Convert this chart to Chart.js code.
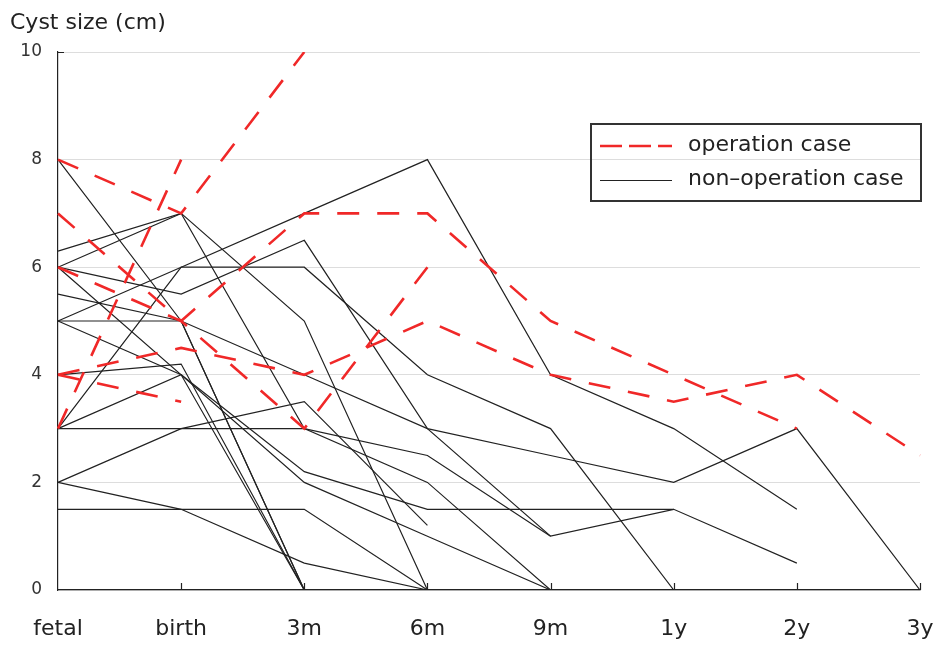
<!DOCTYPE html>
<html>
<head>
<meta charset="utf-8">
<script src="https://cdn.jsdelivr.net/npm/chart.js@4.4.0/dist/chart.umd.min.js"></script>
<style>
    html, body { margin: 0; padding: 0; background: #ffffff; }
    #wrap { width: 939px; height: 646px; position: relative; }
</style>
</head>
<body>
<div id="wrap"><canvas id="cystChart" width="939" height="646"></canvas></div>
<script>
// Cyst size follow-up, one line per patient
var categories = ['fetal', 'birth', '3m', '6m', '9m', '1y', '2y', '3y'];
var yTicks = [0, 2, 4, 6, 8, 10];

// operation cases (red dashed)
var operationCases = [
    [8, 7, 10],
    [7, 5, 7, 7, 5, 4, 3],
    [6, 5, 3, 6],
    [4, 3.5],
    [4, 4.5, 4, 5, 4, 3.5, 4, 2.5],
    [3, 8]
];

// non-operation cases (black solid)
var nonOperationCases = [
    [8, 5, 0],
    [6.3, 7, 5, 0],
    [6, 7, 3, 2, 0],
    [6, 5.5, 6.5, 3, 1, 1.5, 0.5],
    [6, 4, 0],
    [5.5, 5, 4, 3, 2.5, 2, 3, 0],
    [5, 5, 0],
    [5, 6, 7, 8, 4, 3, 1.5],
    [5, 4, 2, 1, 0],
    [4, 4.2, 0],
    [3, 3, 3, 2.5, 1],
    [3, 4, 2.2, 1.5, 1.5, 1.5],
    [3, 6, 6, 4, 3, 0],
    [2, 3, 3.5, 1.2],
    [2, 1.5, 0.5, 0],
    [1.5, 1.5, 1.5, 0]
];

var FONT = '"DejaVu Sans", "Liberation Sans", sans-serif';
var RED = '#f02828';
var INK = '#222222';

var datasets = [];
operationCases.forEach(function (vals, i) {
    datasets.push({
        label: 'operation case ' + (i + 1),
        data: vals,
        borderColor: RED,
        borderWidth: 2.6,
        borderDash: [22, 18],
        pointRadius: 0,
        tension: 0,
        fill: false
    });
});
nonOperationCases.forEach(function (vals, i) {
    datasets.push({
        label: 'non-operation case ' + (i + 1),
        data: vals,
        borderColor: INK,
        borderWidth: 1.2,
        pointRadius: 0,
        tension: 0,
        fill: false
    });
});

// title, small tick marks and the boxed legend
var extrasPlugin = {
    id: 'cystExtras',
    afterDraw: function (chart) {
        var ctx = chart.ctx;
        var a = chart.chartArea;
        var xs = chart.scales.x;
        var ys = chart.scales.y;
        ctx.save();

        ctx.fillStyle = INK;
        ctx.font = '22px ' + FONT;
        ctx.textAlign = 'left';
        ctx.textBaseline = 'alphabetic';
        ctx.fillText('Cyst size (cm)', 10, 29);

        ctx.strokeStyle = INK;
        ctx.lineWidth = 1.2;
        ctx.beginPath();
        for (var i = 1; i < categories.length; i++) {
            var x = Math.round(xs.getPixelForValue(i)) + 0.5;
            ctx.moveTo(x, a.bottom);
            ctx.lineTo(x, a.bottom - 7);
        }
        var yTop = Math.round(ys.getPixelForValue(yTicks[yTicks.length - 1])) + 0.5;
        ctx.moveTo(a.left, yTop);
        ctx.lineTo(a.left + 6, yTop);
        ctx.stroke();

        // legend box
        ctx.lineWidth = 2;
        ctx.strokeStyle = '#333333';
        ctx.strokeRect(591, 124, 330, 77);

        ctx.beginPath();
        ctx.strokeStyle = RED;
        ctx.lineWidth = 2.6;
        ctx.setLineDash([22, 7]);
        ctx.moveTo(600, 146);
        ctx.lineTo(672, 146);
        ctx.stroke();

        ctx.beginPath();
        ctx.setLineDash([]);
        ctx.strokeStyle = INK;
        ctx.lineWidth = 1.2;
        ctx.moveTo(600, 180.5);
        ctx.lineTo(672, 180.5);
        ctx.stroke();

        ctx.fillStyle = INK;
        ctx.font = '22px ' + FONT;
        ctx.textBaseline = 'middle';
        ctx.fillText('operation case', 688, 145);
        ctx.fillText('non\u2013operation case', 688, 179);
        ctx.restore();
    }
};

new Chart(document.getElementById('cystChart').getContext('2d'), {
    type: 'line',
    data: { labels: categories, datasets: datasets },
    plugins: [extrasPlugin],
    options: {
        responsive: false,
        animation: false,
        devicePixelRatio: 1,
        layout: { padding: { left: 0, right: 19, top: 52, bottom: 0 } },
        plugins: {
            legend: { display: false },
            tooltip: { enabled: false }
        },
        scales: {
            x: {
                type: 'category',
                offset: false,
                grid: { display: false, drawTicks: false },
                border: { display: true, color: INK, width: 1.2 },
                ticks: {
                    color: INK,
                    padding: 26,
                    maxRotation: 0,
                    autoSkip: false,
                    font: { size: 22, family: FONT }
                },
                afterFit: function (scale) {
                    scale.height = 56;
                    scale.paddingLeft = 0;
                    scale.paddingRight = 0;
                }
            },
            y: {
                min: 0,
                max: 10,
                grid: { color: '#dddddd', lineWidth: 1, drawTicks: false },
                border: { display: true, color: INK, width: 1.2 },
                ticks: {
                    stepSize: 2,
                    color: '#333333',
                    padding: 16,
                    font: { size: 17, family: FONT },
                    callback: function (v) { return yTicks.indexOf(v) >= 0 ? String(v) : ''; }
                },
                afterFit: function (scale) {
                    scale.width = 58;
                    scale.paddingTop = 0;
                    scale.paddingBottom = 0;
                }
            }
        }
    }
});
</script>
</body>
</html>
